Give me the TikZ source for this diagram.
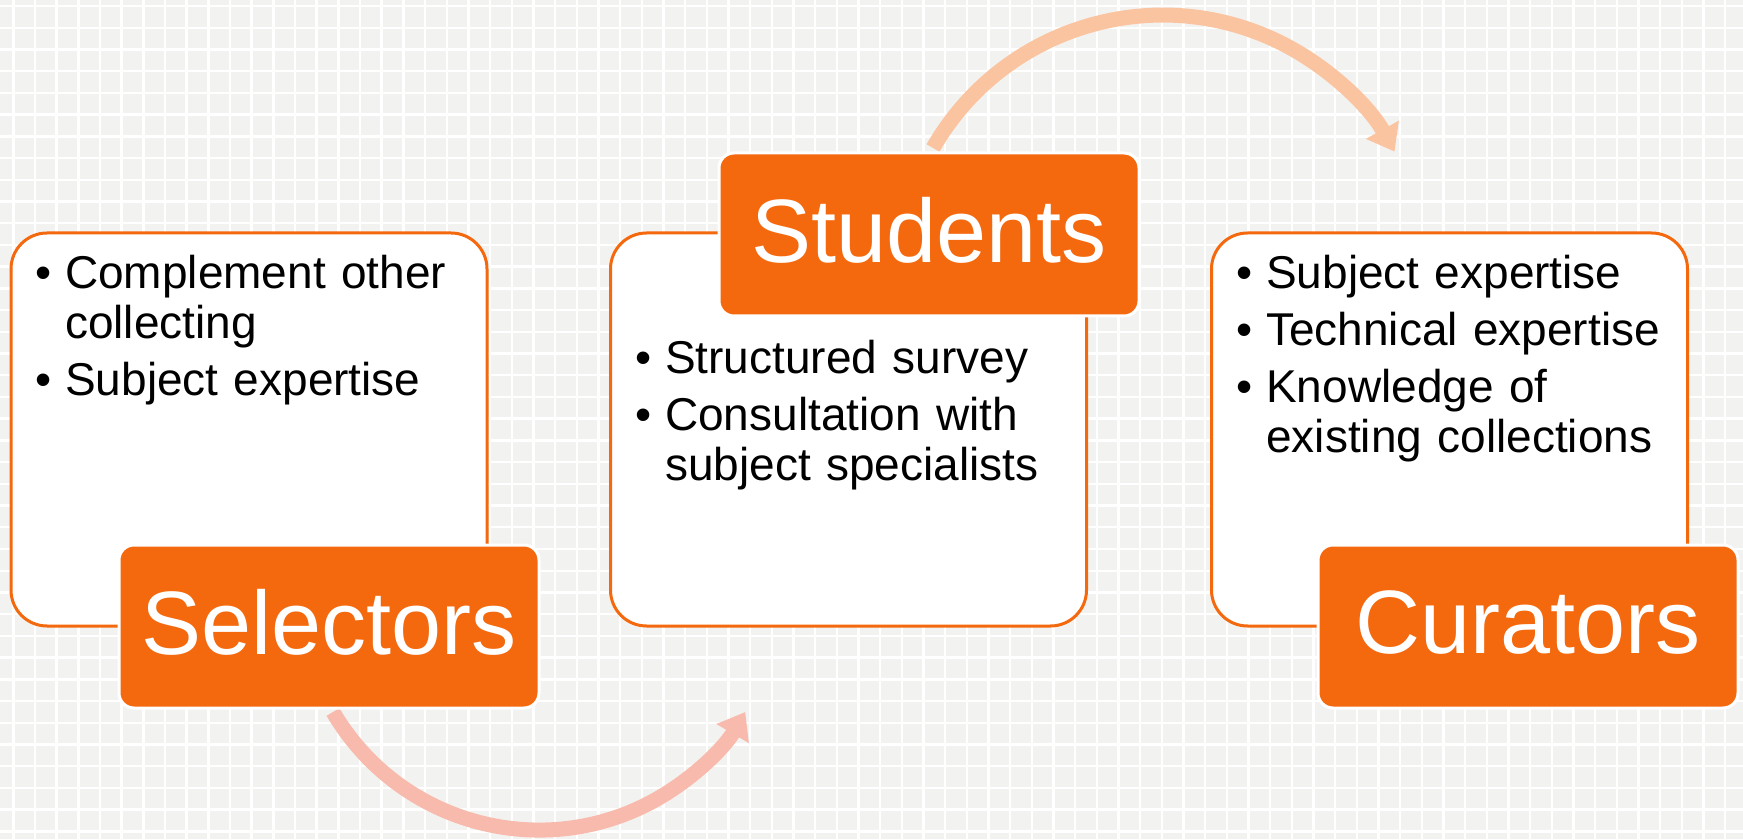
\documentclass[tikz,border=0pt]{standalone}
\usepackage{fontspec}
\setmainfont{Liberation Sans}
\usetikzlibrary{arrows.meta}
\definecolor{orng}{HTML}{F4690E}
\definecolor{bgc}{HTML}{F2F2F0}
\definecolor{arrA}{HTML}{F8BAAC}
\definecolor{arrB}{HTML}{FBC4A0}
\newcommand\bitem[1]{\hangindent=30pt\hangafter=1\noindent\makebox[30pt][l]{\textbullet}#1\par}
\newcommand\bodysetup{\fontsize{46}{50}\selectfont\setlength\parskip{7pt}%
  \hyphenpenalty=10000 \exhyphenpenalty=10000 }
\tikzset{
  bigbox/.style={draw=orng, line width=3pt, fill=white, rounded corners=36pt,
    minimum width=476pt, minimum height=393pt, inner sep=0pt},
  titlebox/.style={fill=orng, draw=white, line width=3pt, rounded corners=15pt,
    minimum width=420pt, minimum height=163pt, inner sep=0pt},
  titletext/.style={inner sep=0pt, text=white, font=\fontsize{90}{90}\selectfont},
  bodytext/.style={anchor=north west, inner sep=0pt, text width=440pt, align=left,
    font=\bodysetup},
  gridline/.style={draw=white, line width=2.4pt},
  flowarrow/.style={line width=15pt, -{Triangle[length=25pt,width=36pt]}}
}
\begin{document}
\begin{tikzpicture}[x=1pt,y=1pt]
\useasboundingbox (0,0) rectangle (1743,839);
\fill[bgc] (0,0) rectangle (1743,839);
\foreach \i in {0,...,80} \draw[gridline] ({13.3+21.67*\i},0) -- ++(0,839);
\foreach \j in {0,...,38} \draw[gridline] (0,{833-21.72*\j}) -- ++(1743,0);

% content boxes
\node[bigbox] (lbox) at (249,409.5) {};
\node[bigbox] (mbox) at (848.5,409.5) {};
\node[bigbox] (rbox) at (1449.5,409.5) {};

\node[bodytext] (ltext) at (35,584.5) {\bitem{Complement other collecting}\bitem{Subject expertise}};
\node[bodytext] (mtext) at (635,499.5) {\bitem{Structured survey}\bitem{Consultation with subject specialists}};
\node[bodytext] (rtext) at (1236,584.5) {\bitem{Subject expertise}\bitem{Technical expertise}\bitem{Knowledge of existing collections}};

% arrows
\coordinate (a1) at (333,127);
\coordinate (a2) at (933,691);
\draw[flowarrow, arrA] (a1) arc[start angle=-149.6, end angle=-30.4, radius=239pt];
\draw[flowarrow, arrB] (a2) arc[start angle=150.1, end angle=29, radius=265pt];

% title boxes
\node[titlebox] (sel) at (329,212.5) {};
\node[titlebox] (stu) at (929,604.5) {};
\node[titlebox] (cur) at (1528,212.5) {};
\node[titletext, yshift=4pt] (selt) at (sel) {Selectors};
\node[titletext, yshift=4pt] (stut) at (stu) {Students};
\node[titletext, yshift=4pt] (curt) at (cur) {Curators};
\end{tikzpicture}
\end{document}
